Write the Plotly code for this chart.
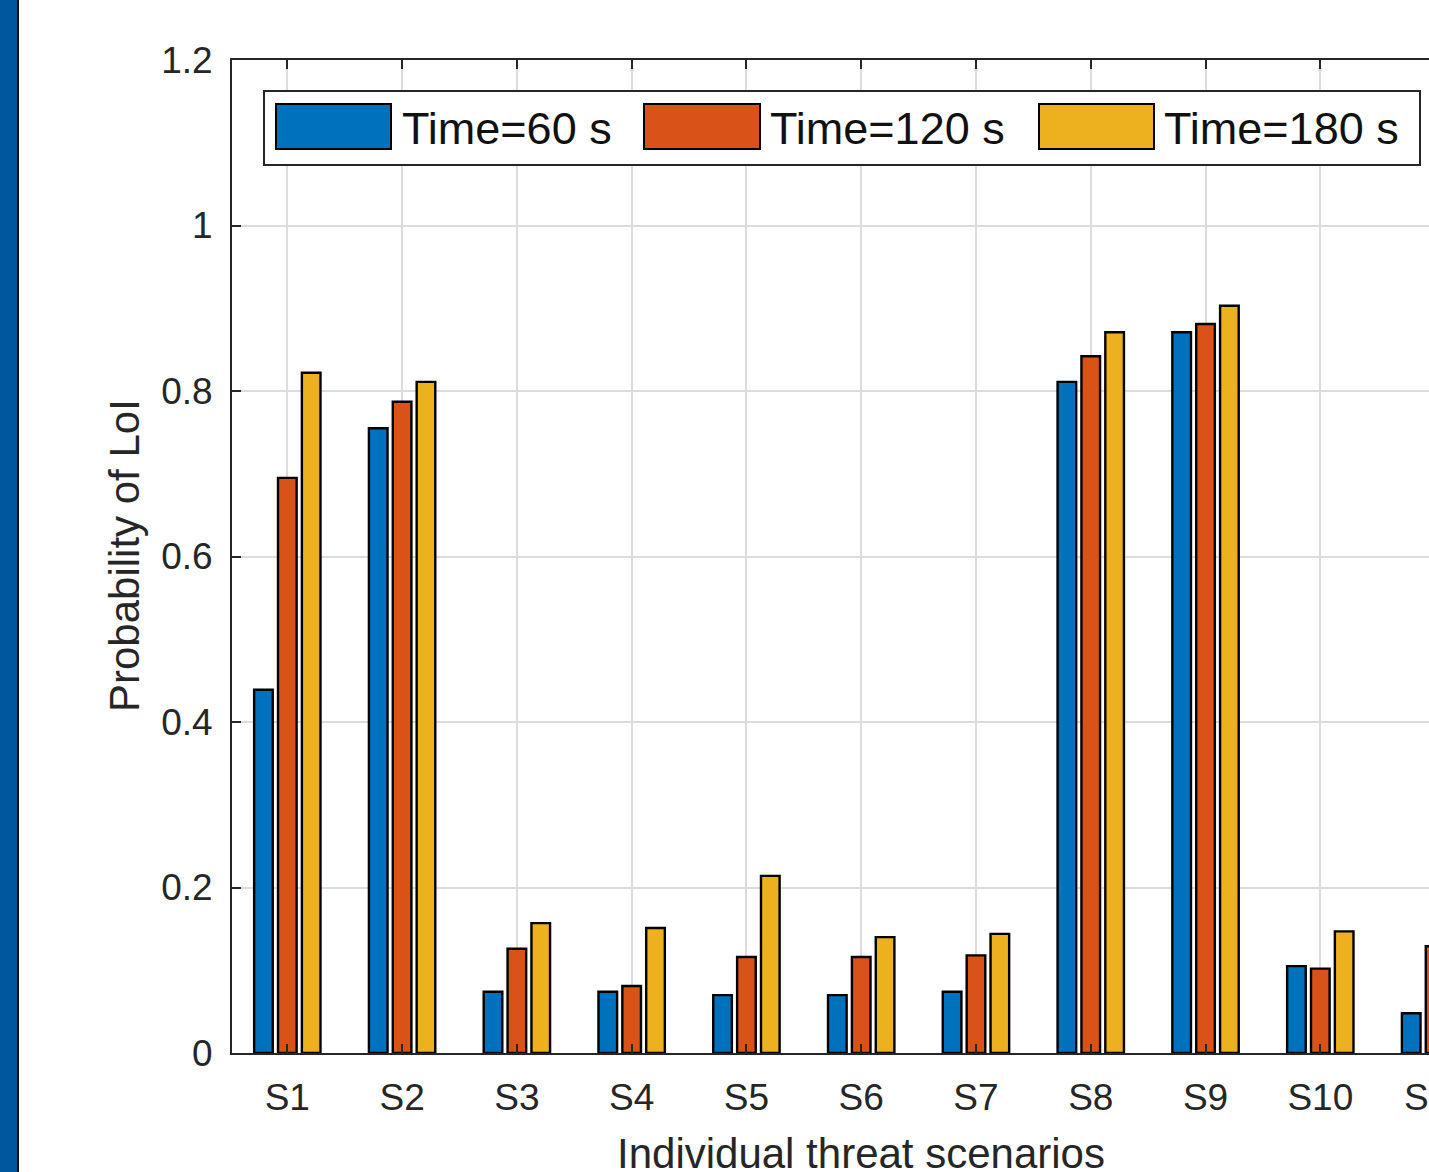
import plotly.graph_objects as go

# ---------------- data ----------------
categories = ["S1", "S2", "S3", "S4", "S5", "S6", "S7", "S8", "S9", "S10", "S11"]
x_pos = [1, 2, 3, 4, 5, 6, 7, 8, 9, 10, 11]
series_names = ["Time=60 s", "Time=120 s", "Time=180 s"]
t60 = [0.439, 0.755, 0.074, 0.074, 0.070, 0.070, 0.074, 0.811, 0.871, 0.105, 0.048]
t120 = [0.695, 0.787, 0.126, 0.081, 0.116, 0.116, 0.118, 0.842, 0.881, 0.102, 0.129]
t180 = [0.822, 0.811, 0.157, 0.151, 0.214, 0.140, 0.144, 0.871, 0.903, 0.147, None]
y_ticks = [0, 0.2, 0.4, 0.6, 0.8, 1.0, 1.2]
y_tick_labels = ["0", "0.2", "0.4", "0.6", "0.8", "1", "1.2"]

colors = ["#0072BD", "#D95319", "#EDB120"]
series = [t60, t120, t180]

# ---------------- layout geometry ----------------
W, H = 1429, 1172
L, R, T, B = 232, 1429, 60, 1053
X_RANGE = [0.518, 10.947]
FONT = "Liberation Sans, Arial, Helvetica, sans-serif"
AXC = "#262626"


def px(x):
    return (x - L) / (R - L)


def py(y):
    return (B - y) / (B - T)


def data_to_paper(xv):
    return (xv - X_RANGE[0]) / (X_RANGE[1] - X_RANGE[0])


fig = go.Figure()
for name, vals, c in zip(series_names, series, colors):
    fig.add_trace(go.Bar(
        x=x_pos, y=vals, name=name, showlegend=False,
        marker=dict(color=c, line=dict(color="black", width=2.4)),
    ))

axis_common = dict(
    showline=True, linecolor=AXC, linewidth=2,
    ticks="inside", ticklen=9, tickwidth=2, tickcolor=AXC,
    showgrid=True, gridcolor="#dcdcdc", gridwidth=2,
    zeroline=False,
    tickfont=dict(family=FONT, size=37, color=AXC),
)

fig.update_layout(
    width=W, height=H, autosize=False,
    margin=dict(l=L, r=W - R, t=T, b=H - B, pad=0),
    paper_bgcolor="white", plot_bgcolor="white",
    barmode="group", bargap=0.376, bargroupgap=0.22,
    xaxis=dict(range=X_RANGE, tickmode="array", tickvals=x_pos,
               ticktext=categories, mirror="ticks", ticklabelstandoff=11,
               **axis_common),
    yaxis=dict(range=[0, 1.2], tickmode="array", tickvals=y_ticks,
               ticktext=y_tick_labels, mirror=False, ticklabelstandoff=10,
               **axis_common),
)

shapes = []
# left blue band and dark edge
shapes.append(dict(type="rect", xref="paper", yref="paper",
                   x0=px(0), x1=px(17), y0=py(H), y1=py(0),
                   fillcolor="#01579B", line=dict(width=0), layer="above"))
shapes.append(dict(type="rect", xref="paper", yref="paper",
                   x0=px(17), x1=px(19), y0=py(H), y1=py(0),
                   fillcolor="#0a0a0a", line=dict(width=0), layer="above"))
# legend box
shapes.append(dict(type="rect", xref="paper", yref="paper",
                   x0=px(264), x1=px(1420), y0=py(165), y1=py(91),
                   fillcolor="white", line=dict(color=AXC, width=2), layer="above"))
swatch_x = [(276, 391), (644, 760), (1039, 1154)]
text_x = [400, 768, 1162]
annotations = []
for (x0, x1), tx, c, name in zip(swatch_x, text_x, colors, series_names):
    shapes.append(dict(type="rect", xref="paper", yref="paper",
                       x0=px(x0), x1=px(x1), y0=py(149), y1=py(104),
                       fillcolor=c, line=dict(color="black", width=2), layer="above"))
    annotations.append(dict(xref="paper", yref="paper", x=px(tx), y=py(129),
                            xanchor="left", yanchor="middle", showarrow=False,
                            text=name, font=dict(family=FONT, size=45, color="#111111")))

# last category label, which sits partly beyond the right edge (as in the source)
annotations.append(dict(xref="paper", yref="paper", x=data_to_paper(x_pos[-1]), y=py(1097),
                        xanchor="center", yanchor="middle", showarrow=False,
                        text=categories[-1],
                        font=dict(family=FONT, size=37, color=AXC)))

# axis titles
annotations.append(dict(xref="x", yref="paper", x=6, y=py(1153),
                        xanchor="center", yanchor="middle", showarrow=False,
                        text="Individual threat scenarios",
                        font=dict(family=FONT, size=42, color=AXC)))
annotations.append(dict(xref="paper", yref="paper", x=px(124), y=py(556),
                        xanchor="center", yanchor="middle", showarrow=False,
                        textangle=-90, text="Probability of LoI",
                        font=dict(family=FONT, size=42, color=AXC)))

fig.update_layout(shapes=shapes, annotations=annotations)

fig.write_html("out.html", config={"displayModeBar": False},
               post_script="document.body.style.margin='0';document.body.style.overflow='hidden';")
